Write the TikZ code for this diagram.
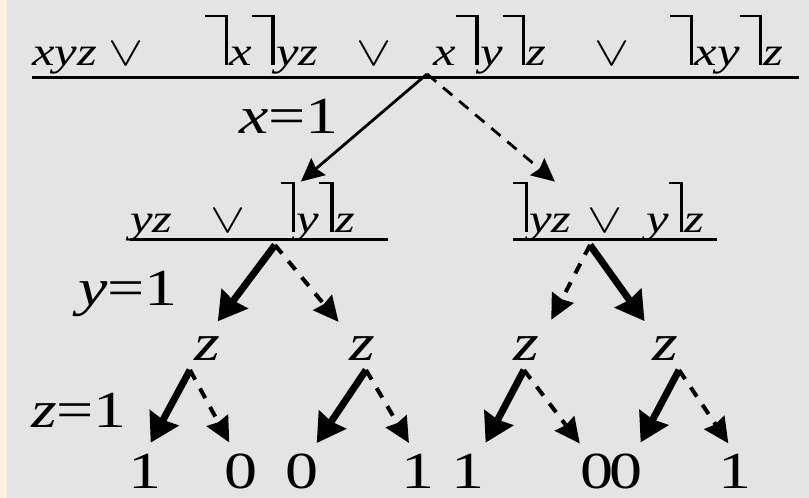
\documentclass[tikz,border=0pt]{standalone}
\usepackage{fontspec}
\setmainfont{Liberation Serif}
\usepackage{xcolor}
\usepackage{graphicx}
\usepackage{tikz}
\usetikzlibrary{positioning,arrows.meta}

\definecolor{bggray}{RGB}{228,228,228}
\definecolor{bgcream}{RGB}{253,241,220}

% negation hook and stretched text
\newcommand{\nt}[1][0.38em]{\hbox{\vrule width #1 height 1.25em depth -1.19em\vrule width 0.065em height 1.25em depth 0pt\kern0.03em}}
\newcommand{\seg}[2]{\makebox[#1][l]{#2}}
\newcommand{\wide}[1]{\scalebox{1.27}[1]{#1}}

\begin{document}
\begin{tikzpicture}[x=0.5pt, y=-0.5pt,
  formula/.style={inner sep=0pt, anchor=base west, font=\fontsize{20}{24}\selectfont\itshape},
  lab/.style={inner sep=0pt, anchor=base, font=\fontsize{26}{30}\selectfont},
  uline/.style={line width=1.5pt},
  thinarr/.style={line width=1.4pt, -{Stealth[length=11.5pt,width=11pt,inset=1.5pt]}},
  thindash/.style={thinarr, dash pattern=on 6pt off 4.5pt},
  bigarr/.style={line width=3.5pt, shorten >=9pt, -{Stealth[length=14pt,width=16pt,inset=1pt]}},
  dasharr/.style={line width=2pt, shorten >=9pt, dash pattern=on 5.5pt off 5pt, -{Stealth[length=12.5pt,width=12pt,inset=1pt]}}]
\fill[bggray] (0,0) rectangle (809,498);
\fill[bgcream] (0,0) rectangle (7,498);
\useasboundingbox (0,0) rectangle (809,498);

% formulas
\node[formula] (f0) at (32,65) {\wide{\seg{30pt}{xyz}\seg{38.1pt}{$\vee$}\seg{59.5pt}{\nt x\nt yz}\seg{30.3pt}{$\vee$}\seg{63.5pt}{x\nt y\nt z}\seg{29.8pt}{$\vee$}\seg{50.4pt}{\nt xy\nt z}}};
\node[formula] (fl) at (130,232) {\wide{\seg{31.5pt}{yz}\seg{27.6pt}{$\vee$}\seg{42.1pt}{\nt[0.22em]y\nt[0.22em]z}}};
\node[formula] (fr) at (513,232) {\wide{\seg{29pt}{\nt[0.22em]yz}\seg{23.3pt}{$\vee$}\seg{27.6pt}{y\nt[0.22em]z}}};
\draw[uline] ([yshift=-6pt]f0.base west) -- ([yshift=-6pt]f0.base east);
\draw[uline] ([yshift=-3.5pt]fl.base west) -- ([yshift=-3.5pt]fl.base east);
\draw[uline] ([yshift=-3.5pt]fr.base west) -- ([yshift=-3.5pt]fr.base east);

% labels
\node[lab] (lx) at (289,133) {\wide{\textit{x}=1}};
\node[lab] (ly) at (128,305) {\wide{\textit{y}=1}};
\node[lab] (lz) at (79,427) {\wide{\textit{z}=1}};

% z nodes and leaves
\node[lab] (z1) at (207,360) {\wide{\textit{z}}};
\node[lab] (z2) at (362,360) {\wide{\textit{z}}};
\node[lab] (z3) at (526,360) {\wide{\textit{z}}};
\node[lab] (z4) at (665,360) {\wide{\textit{z}}};
\node[lab] (v1) at (145,488) {\wide{1}};
\node[lab] (v2) at (241,488) {\wide{0}};
\node[lab] (v3) at (302,488) {\wide{0}};
\node[lab] (v4) at (418,488) {\wide{1}};
\node[lab] (v5) at (468,488) {\wide{1}};
\node[lab] (v6) at (597,488) {\wide{0}};
\node[lab] (v7) at (626,488) {\wide{0}};
\node[lab] (v8) at (735,488) {\wide{1}};

% fork points
\coordinate (r0) at (427,74);
\coordinate (rl) at (275,245);
\coordinate (rr) at (590,245);
\coordinate (k1) at (190,370);
\coordinate (k2) at (366,370);
\coordinate (k3) at (524,370);
\coordinate (k4) at (679,370);

\draw[thinarr] (r0) -- ([xshift=21pt]fl.north);
\draw[thindash] (r0) -- ([xshift=-30pt]fr.north);

\draw[bigarr] (rl) -- (z1.north);
\draw[dasharr] (rl) -- ([xshift=-6pt]z2.north);
\draw[dasharr] (rr) -- ([xshift=8.5pt]z3.north);
\draw[bigarr] (rr) -- ([xshift=-5pt]z4.north);

\draw[bigarr, shorten >=6pt] (k1) -- (v1.north);
\draw[dasharr, shorten >=6pt] (k1) -- ([xshift=-3pt]v2.north);
\draw[bigarr, shorten >=6pt] (k2) -- ([xshift=4pt]v3.north);
\draw[dasharr, shorten >=6pt] (k2) -- ([xshift=-1.5pt]v4.north);
\draw[bigarr, shorten >=6pt] (k3) -- ([xshift=6pt]v5.north);
\draw[dasharr, shorten >=6pt] (k3) -- ([xshift=-5pt]v6.north);
\draw[bigarr, shorten >=6pt] (k4) -- ([xshift=4.5pt]v7.north);
\draw[dasharr, shorten >=6pt] (k4) -- (v8.north);
\end{tikzpicture}
\end{document}
